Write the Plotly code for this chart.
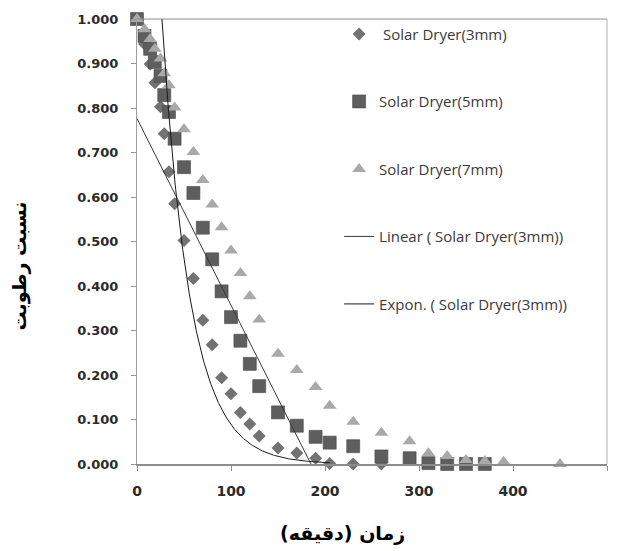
import numpy as np
import plotly.graph_objects as go

# ---- data ----
time_3mm = [0, 8, 14, 19, 25, 29, 34, 40, 50, 60, 70, 80, 90, 100, 110, 120, 130,
            150, 170, 190, 205, 230, 260]
mr_3mm = [1.0, 0.944, 0.899, 0.857, 0.803, 0.742, 0.657, 0.585, 0.502, 0.417, 0.323,
          0.268, 0.194, 0.158, 0.116, 0.090, 0.063, 0.036, 0.025, 0.013, 0.001, 0.0, 0.0]

time_5mm = [0, 8, 14, 19, 25, 29, 34, 40, 50, 60, 70, 80, 90, 100, 110, 120, 130,
            150, 170, 190, 205, 230, 260, 290, 310, 330, 350, 370]
mr_5mm = [1.0, 0.962, 0.933, 0.903, 0.872, 0.829, 0.791, 0.731, 0.667, 0.609, 0.531,
          0.460, 0.388, 0.330, 0.277, 0.225, 0.175, 0.116, 0.086, 0.061, 0.048, 0.040,
          0.017, 0.013, 0.002, 0.0, 0.0, 0.0]

time_7mm = [0, 8, 14, 19, 25, 29, 34, 40, 50, 60, 70, 80, 90, 100, 110, 120, 130,
            150, 170, 190, 205, 230, 260, 290, 310, 330, 350, 370, 390, 450]
mr_7mm = [1.0, 0.977, 0.955, 0.933, 0.911, 0.878, 0.851, 0.801, 0.752, 0.701, 0.638,
          0.583, 0.532, 0.480, 0.429, 0.377, 0.325, 0.248, 0.211, 0.173, 0.131, 0.095,
          0.070, 0.051, 0.024, 0.018, 0.009, 0.007, 0.005, 0.0]

# exponential trendline coefficients (y = a * exp(b * t))
EXP_A = 2.4
EXP_B = -0.033
EXP_T_END = 205

names = ["\u00a0Solar Dryer(3mm)", "Solar Dryer(5mm)", "Solar Dryer(7mm)",
         "Linear ( Solar Dryer(3mm))", "Expon. ( Solar Dryer(3mm))"]

x_ticks = [0, 100, 200, 300, 400, 500]

# ---- trendlines ----
slope, intercept = np.polyfit(time_3mm, mr_3mm, 1)
lin_t = np.array([0, max(time_3mm)])
lin_y = intercept + slope * lin_t
exp_t = np.linspace(0, EXP_T_END, 300)
exp_y = EXP_A * np.exp(EXP_B * exp_t)

fig = go.Figure()
fig.add_trace(go.Scatter(x=time_3mm, y=mr_3mm, mode="markers", name=names[0],
                         legendgroup="a", cliponaxis=False,
                         marker=dict(symbol="diamond", size=10, color="#727272",
                                     line=dict(width=0))))
fig.add_trace(go.Scatter(x=time_5mm, y=mr_5mm, mode="markers", name=names[1],
                         legendgroup="b", cliponaxis=False,
                         marker=dict(symbol="square", size=13, color="#5e5e5e",
                                     line=dict(width=0.6, color="#4a4a4a"))))
fig.add_trace(go.Scatter(x=time_7mm, y=mr_7mm, mode="markers", name=names[2],
                         legendgroup="c", cliponaxis=False,
                         marker=dict(symbol="triangle-up", size=12, color="#a9a9a9",
                                     line=dict(width=0))))
fig.add_trace(go.Scatter(x=lin_t, y=lin_y, mode="lines", name=names[3],
                         legendgroup="d", line=dict(color="#3a3a3a", width=1)))
fig.add_trace(go.Scatter(x=exp_t, y=exp_y, mode="lines", name=names[4],
                         legendgroup="e", line=dict(color="#1a1a1a", width=1)))

tick_font_x = dict(family="DejaVu Sans", size=14, color="#2a2a2a", weight="bold")
tick_font_y = dict(family="DejaVu Sans", size=13, color="#2a2a2a", weight="bold")

fig.update_layout(
    width=620, height=551,
    margin=dict(l=137, r=13, t=13, b=87),
    paper_bgcolor="white", plot_bgcolor="white",
    showlegend=True,
    legend=dict(x=0.43, y=1.003, xanchor="left", yanchor="top", maxheight=480,
                bgcolor="rgba(0,0,0,0)", tracegroupgap=45,
                font=dict(family="Open Sans", size=15, color="#3a3a3a")),
    xaxis=dict(range=[0, 500], tickvals=x_ticks, ticks="outside", ticklen=5,
               tickcolor="#8c8c8c", showline=True, linecolor="#8c8c8c", linewidth=2,
               showgrid=False, zeroline=False, tickfont=tick_font_x,
               ticklabelstandoff=8),
    yaxis=dict(range=[0, 1], dtick=0.1, tickformat=".3f", ticks="outside", ticklen=5,
               tickcolor="#999999", showline=True, linecolor="#a0a0a0", linewidth=1,
               showgrid=False, zeroline=False, tickfont=tick_font_y,
               ticklabelstandoff=10),
    shapes=[
        dict(type="line", xref="paper", yref="paper", x0=0, x1=1, y0=1, y1=1,
             line=dict(color="#8c8c8c", width=1)),
        dict(type="line", xref="paper", yref="paper", x0=1, x1=1, y0=0, y1=1,
             line=dict(color="#b0b0b0", width=1)),
    ],
    annotations=[
        dict(text="زمان (دقیقه)", xref="paper", yref="paper", x=0.438, y=-0.157,
             xanchor="center", yanchor="middle", showarrow=False,
             font=dict(family="DejaVu Sans", size=19, color="#000000", weight="bold")),
        dict(text="نسبت رطوبت", xref="paper", yref="paper", x=-0.249, y=0.446,
             xanchor="center", yanchor="middle", showarrow=False, textangle=-90,
             font=dict(family="DejaVu Sans", size=19, color="#000000", weight="bold")),
    ],
)

fig.write_html("out.html")
